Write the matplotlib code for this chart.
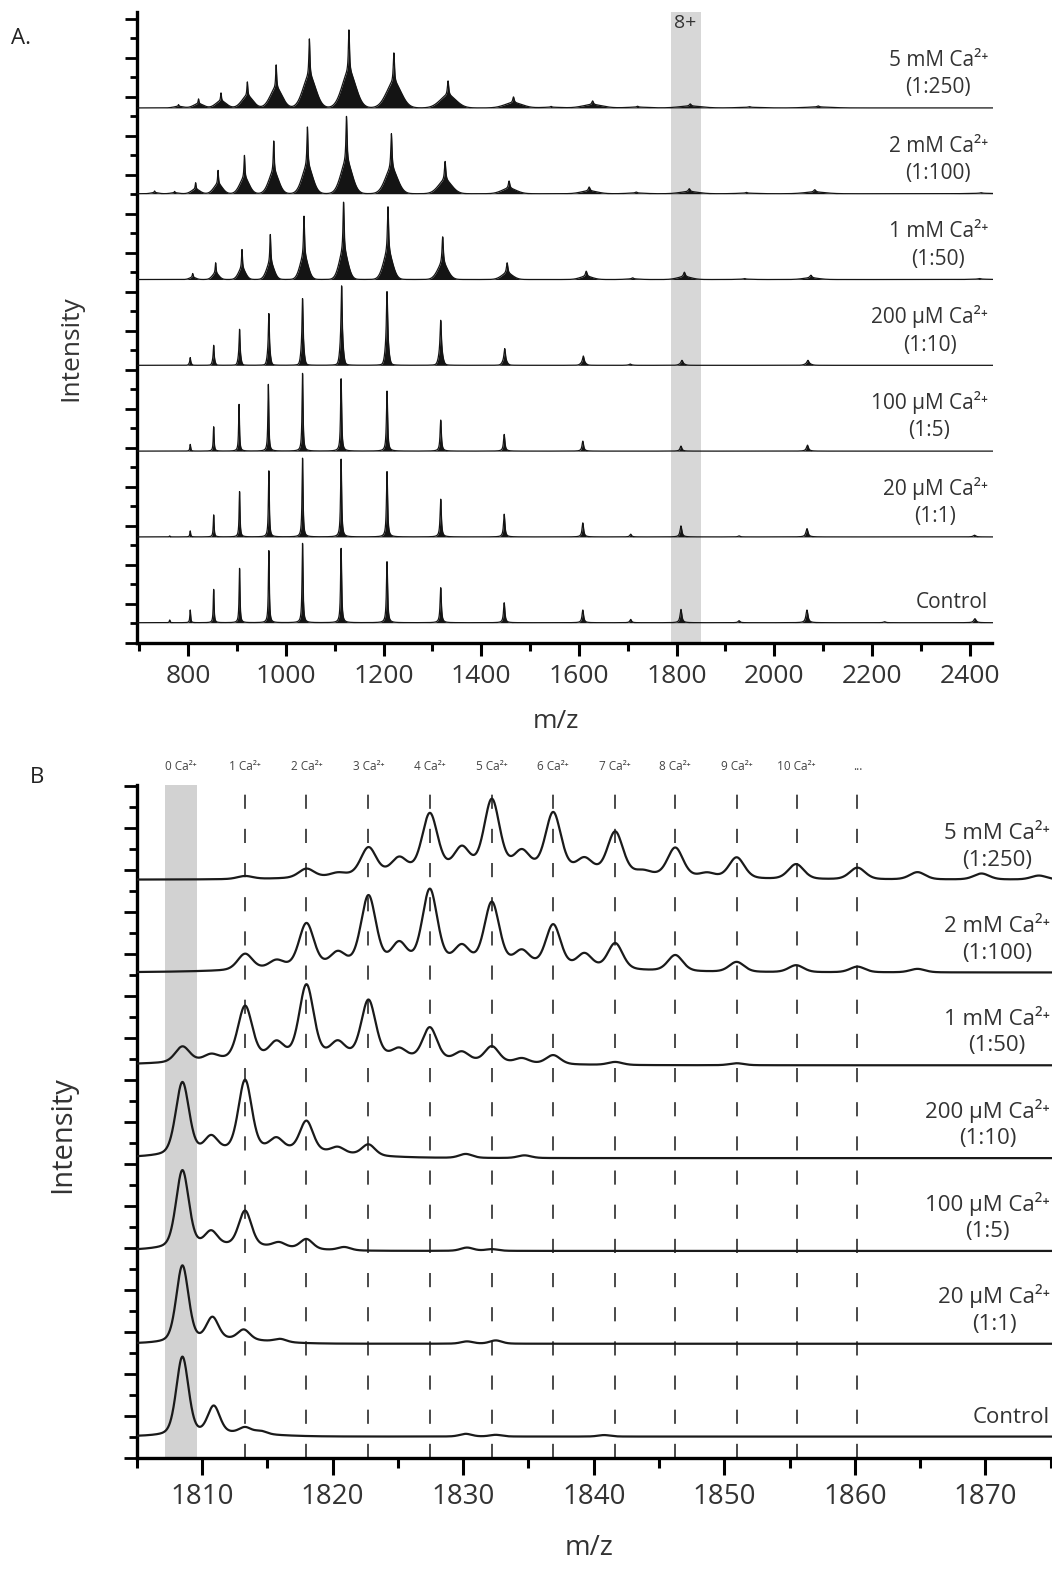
import numpy as np
import matplotlib
matplotlib.use("Agg")
import matplotlib.pyplot as plt
from matplotlib.ticker import MultipleLocator
from matplotlib.transforms import blended_transform_factory

plt.rcParams['font.family'] = ['Open Sans', 'DejaVu Sans']

# sample labels, top trace first
samples = ["5 mM Ca²⁺\n(1:250)", "2 mM Ca²⁺\n(1:100)", "1 mM Ca²⁺\n(1:50)",
           "200 µM Ca²⁺\n(1:10)", "100 µM Ca²⁺\n(1:5)", "20 µM Ca²⁺\n(1:1)", "Control"]

# ---- panel A: whole charge-state envelope (peak m/z, peak intensity a.u.) ----
a_mz = [
    [780, 821, 867, 921, 980, 1048, 1129, 1221, 1332, 1466, 1543, 1628, 1720, 1828, 1949, 2090],
    [731, 772, 815, 861, 915, 975, 1044, 1124, 1216, 1326, 1457, 1621, 1717, 1826, 1943, 2083, 2424],
    [809, 856, 910, 968, 1037, 1118, 1209, 1321, 1453, 1615, 1710, 1816, 1939, 2075, 2420],
    [804, 852, 905, 965, 1034, 1114, 1207, 1317, 1448, 1609, 1705, 1811, 2069],
    [804, 852, 904, 964, 1034, 1113, 1207, 1317, 1447, 1608, 1809, 2068],
    [762, 804, 852, 905, 965, 1034, 1113, 1207, 1317, 1447, 1608, 1706, 1809, 1928, 2067, 2410],
    [762, 804, 852, 905, 965, 1034, 1113, 1207, 1317, 1447, 1608, 1706, 1809, 1928, 2067, 2226, 2411],
]
a_int = [
    [3.3, 9, 15, 26, 43, 69, 78, 55, 27, 11, 1.5, 7, 1.7, 4, 1.3, 2],
    [2.7, 2.3, 11, 23.3, 38.3, 52.7, 66.7, 77.3, 60, 32.3, 12.7, 6.7, 1.7, 5, 1.3, 4, 1],
    [6, 16.7, 30, 45, 63.3, 77.3, 72.7, 42.7, 16.7, 8.3, 1.7, 7.3, 1, 4.3, 1],
    [7.7, 20, 36, 51.7, 66.7, 79.4, 73.7, 45, 16.7, 9.3, 1.3, 5, 5],
    [6.7, 24.3, 46.7, 66.7, 77.7, 72.3, 60, 31, 16.7, 10, 5, 6],
    [1, 6, 22, 45.3, 66, 78.7, 77.7, 65.3, 37.7, 22.7, 14, 2.7, 11, 1, 8.3, 1.7],
    [2.7, 12.7, 33.3, 54.3, 72, 79.3, 74.3, 61, 35, 20, 12.7, 3.3, 13.3, 2, 12.7, 1, 4],
]
# spread of the Ca adduct skirt (fraction of m/z) and share of the sharp apex
a_skirt = [0.0126, 0.0105, 0.008, 0.003, 0.0015, 0.0015, 0.0012]
a_spike = [0.55, 0.6, 0.65, 0.75, 1.0, 1.0, 1.0]
band_a = (1789, 1851)

# ---- panel B: the 8+ ion with n bound Ca2+ ----
b_mz = [
    [1813.3, 1818.0, 1820.4, 1822.75, 1825.1, 1827.45, 1829.9, 1832.2, 1834.5, 1836.9, 1839.3,
     1841.65, 1843.8, 1846.25, 1848.7, 1850.95, 1855.5, 1860.2, 1864.8, 1869.7, 1874.1],
    [1813.3, 1815.7, 1818.0, 1820.4, 1822.75, 1825.1, 1827.45, 1829.9, 1832.2, 1834.5, 1836.9,
     1839.3, 1841.65, 1846.25, 1850.95, 1855.5, 1860.2, 1864.8],
    [1808.5, 1810.7, 1813.3, 1815.7, 1818.0, 1820.4, 1822.75, 1825.1, 1827.45, 1829.9, 1832.2,
     1834.5, 1836.9, 1841.65, 1850.95],
    [1808.5, 1810.7, 1813.3, 1815.7, 1818.0, 1820.4, 1822.75, 1830.2, 1834.7],
    [1808.5, 1810.7, 1813.3, 1815.9, 1818.0, 1820.9, 1830.3, 1832.2],
    [1808.5, 1810.8, 1813.2, 1816.0, 1830.3, 1832.5],
    [1808.5, 1810.9, 1813.3, 1814.5, 1830.2, 1832.5, 1840.8],
]
b_int = [
    [3, 9, 3.5, 27.5, 15, 58, 22, 70, 18, 58, 13, 42, 4, 29, 4.5, 21, 15, 11.7, 7.3, 6, 4],
    [16, 8, 44, 13, 69, 20, 74, 17, 62, 14, 42, 14, 26, 16, 10, 7, 5.7, 3.5],
    [15.5, 6, 53, 15, 72, 14, 57, 9, 32, 9, 16, 5, 9, 3, 2],
    [72, 15, 70, 11, 30, 6, 11, 4, 2.7],
    [77, 14, 35, 5, 10, 3.3, 3.3, 1.7],
    [76, 22, 10, 3, 2.3, 3.3],
    [78, 27, 6, 3, 2.7, 1.7, 1.5],
]
b_fwhm = [1.4, 1.35, 1.3, 1.2, 1.15, 1.1, 1.1]
# unresolved adduct background under each trace: centre, FWHM, height
b_hump_mz = [1833, 1828, 1820, 1815, 1812, 1812, 1812]
b_hump_fwhm = [18.8, 21.2, 18.8, 11.8, 9.4, 7.0, 7.0]
b_hump_int = [9, 8, 8, 8, 5, 4, 3]

ca_lines = [1813.3, 1818.0, 1822.75, 1827.45, 1832.2, 1836.9, 1841.65, 1846.25, 1850.95, 1855.55, 1860.2]
ca_labels = ["0 Ca²⁺", "1 Ca²⁺", "2 Ca²⁺", "3 Ca²⁺", "4 Ca²⁺", "5 Ca²⁺", "6 Ca²⁺",
             "7 Ca²⁺", "8 Ca²⁺", "9 Ca²⁺", "10 Ca²⁺", "..."]
band_b = (1807.2, 1809.6)


def envelope(x, centers, heights, skirt, spike):
    y = np.zeros_like(x)
    for c, h in zip(centers, heights):
        lor = 1.0 / (1.0 + ((x - c) / (0.0012 * c)) ** 2)
        gau = np.exp(-0.5 * ((x - c) / (skirt * c)) ** 2)
        y += h * (spike * lor + (1 - spike) * gau)
    return y


def pvoigt(x, centers, heights, fwhm, eta=0.3):
    y = np.zeros_like(x)
    s = fwhm / 2.3548
    for c, h in zip(centers, heights):
        g = np.exp(-0.5 * ((x - c) / s) ** 2)
        l = 1.0 / (1.0 + ((x - c) / (fwhm / 2)) ** 2)
        y += h * (eta * l + (1 - eta) * g)
    return y


W, H = 1052, 1596
fig = plt.figure(figsize=(W / 100, H / 100), dpi=100)


def px_box(left, top, right, bottom):
    return [left / W, 1 - bottom / H, (right - left) / W, (bottom - top) / H]


def style(ax, xmaj, xmin, xlen, ylen, size):
    for s in ('top', 'right'):
        ax.spines[s].set_visible(False)
    for s in ('left', 'bottom'):
        ax.spines[s].set_linewidth(2.4)
    ax.xaxis.set_major_locator(MultipleLocator(xmaj))
    ax.xaxis.set_minor_locator(MultipleLocator(xmin))
    ax.yaxis.set_major_locator(MultipleLocator(2))
    ax.yaxis.set_minor_locator(MultipleLocator(1))
    ax.tick_params(axis='x', which='major', length=xlen[0], width=2.2, pad=6,
                   labelsize=size, labelcolor='#333333')
    ax.tick_params(axis='x', which='minor', length=xlen[1], width=2.2)
    ax.tick_params(axis='y', which='major', length=ylen[0], width=2.0, labelleft=False)
    ax.tick_params(axis='y', which='minor', length=ylen[1], width=2.0)


# ---------------- panel A ----------------
ax_a = fig.add_axes(px_box(137, 12, 992.5, 643))
A_PX = 19.5          # pixels per y tick step
A_BASE0, A_STEP = 1.04, 4.4
xa = np.arange(695, 2447, 0.1)
ax_a.axvspan(*band_a, color='#d7d7d7', lw=0, zorder=0)
lab_tr = blended_transform_factory(ax_a.transAxes, ax_a.transData)
for i in range(7):
    base = A_BASE0 + A_STEP * (6 - i)
    y = base + envelope(xa, a_mz[i], a_int[i], a_skirt[i], a_spike[i]) / A_PX
    ax_a.fill_between(xa, base, y, color='#141414', lw=0, zorder=3)
    ax_a.plot(xa, y, color='#141414', lw=0.9, zorder=4)
    ax_a.text(0.9947, base + 0.5, samples[i], transform=lab_tr, ha='right', va='bottom',
              multialignment='center', fontsize=15, linespacing=1.4, color='#333333')
ax_a.text(1818, 31.8, "8+", ha='center', va='center', fontsize=14, color='#333333')
ax_a.set_xlim(695, 2447)
ax_a.set_ylim(0, 631 / A_PX)
style(ax_a, 200, 100, (9, 5.5), (9, 5), 19)

# ---------------- panel B ----------------
ax_b = fig.add_axes(px_box(136.7, 785, 1052, 1458))
B_PX = 21.0
B_BASE0, B_STEP = 1.02, 4.42
xb = np.arange(1805.0, 1875.1, 0.02)
ax_b.axvspan(*band_b, color='#d2d2d2', lw=0, zorder=0)
for m in ca_lines:
    ax_b.axvline(m, color='#2b2b2b', lw=1.2, dashes=(8.5, 12), zorder=1)
top_tr = blended_transform_factory(ax_b.transData, ax_b.transAxes)
for m, t in zip([sum(band_b) / 2] + ca_lines, ca_labels):
    ax_b.text(m, 1.028, t, transform=top_tr, ha='center', va='center',
              fontsize=8.5, color='#444444')
lab_tr = blended_transform_factory(ax_b.transAxes, ax_b.transData)
for i in range(7):
    base = B_BASE0 + B_STEP * (6 - i)
    sig = pvoigt(xb, b_mz[i], b_int[i], b_fwhm[i])
    sig += pvoigt(xb, [b_hump_mz[i]], [b_hump_int[i]], b_hump_fwhm[i], eta=0.0)
    ax_b.plot(xb, base + sig / B_PX, color='#1a1a1a', lw=1.6, zorder=3)
    ax_b.text(0.9978, base + 0.42, samples[i], transform=lab_tr, ha='right', va='bottom',
              multialignment='center', fontsize=16, linespacing=1.35, color='#333333')
ax_b.set_xlim(1805.0, 1875.1)
ax_b.set_ylim(0, 673 / B_PX)
style(ax_b, 10, 5, (12, 7), (9.5, 6), 20)

# axis titles and panel letters
fig.text(71 / W, 1 - 348 / H, "Intensity", rotation=90, ha='center', va='center',
         fontsize=19, color='#333333')
fig.text(556 / W, 1 - 722 / H, "m/z", ha='center', va='center', fontsize=19, color='#333333')
fig.text(63 / W, 1 - 1135 / H, "Intensity", rotation=90, ha='center', va='center',
         fontsize=21, color='#333333')
fig.text(589 / W, 1 - 1548 / H, "m/z", ha='center', va='center', fontsize=20, color='#333333')
fig.text(21 / W, 1 - 39 / H, "A.", ha='center', va='center', fontsize=16, color='#222222')
fig.text(37 / W, 1 - 777 / H, "B", ha='center', va='center', fontsize=16, color='#222222')

fig.savefig("out.png", dpi=100)
